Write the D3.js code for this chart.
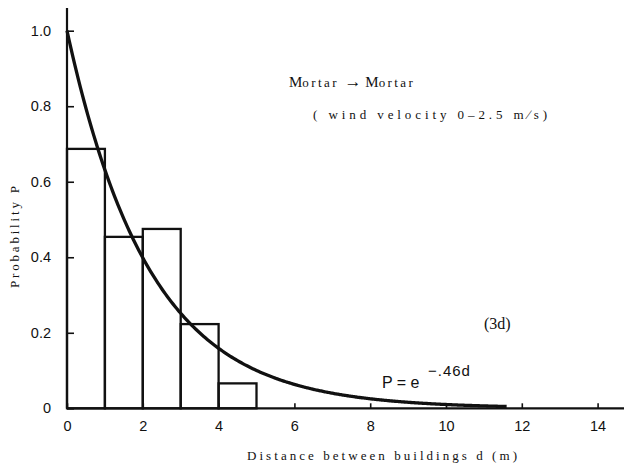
<!DOCTYPE html>
<html>
<head>
<meta charset="utf-8">
<script src="https://cdn.jsdelivr.net/npm/d3@7"></script>
<style>
  html, body { margin: 0; padding: 0; background: #fff; }
  svg { display: block; }
  .tick text { font-family: "Liberation Sans", Arial, sans-serif; font-size: 14.5px; fill: #111; }
  .serif { font-family: "Liberation Serif", "DejaVu Serif", serif; fill: #111; }
</style>
</head>
<body>
<svg id="chart" width="624" height="468"></svg>
<script>
// Histogram of separation distances (1 m bins) and fitted exponential
const binStarts = [0, 1, 2, 3, 4];
const binProbs = [0.687, 0.454, 0.475, 0.223, 0.066];
const xTicks = [0, 2, 4, 6, 8, 10, 12, 14];
const yTicks = [0, 0.2, 0.4, 0.6, 0.8, 1.0];
const yTickLabels = ["0", "0.2", "0.4", "0.6", "0.8", "1.0"];
const fitRate = 0.46;
const fitEnd = 11.6;

const W = 624, H = 468;
const svg = d3.select("#chart");

const x = d3.scaleLinear().domain([0, 14]).range([67, 597.6]);
const y = d3.scaleLinear().domain([0, 1]).range([408.3, 30.7]);

// axis lines extend past the tick range
svg.append("line")
  .attr("x1", x(0)).attr("x2", W)
  .attr("y1", y(0)).attr("y2", y(0))
  .attr("stroke", "#111").attr("stroke-width", 2.2);
svg.append("line")
  .attr("x1", x(0)).attr("x2", x(0))
  .attr("y1", y(0)).attr("y2", y(1.06))
  .attr("stroke", "#111").attr("stroke-width", 2.2);

// bottom axis: ticks point up into the plot
const xAxis = svg.append("g")
  .attr("transform", `translate(0,${y(0)})`)
  .call(d3.axisBottom(x).tickValues(xTicks).tickSize(-5).tickPadding(12).tickFormat(d3.format("d")));
xAxis.select(".domain").remove();
xAxis.selectAll(".tick line").attr("stroke", "#111").attr("stroke-width", 1.6);

// left axis: ticks point right into the plot
const yAxis = svg.append("g")
  .attr("transform", `translate(${x(0)},0)`)
  .call(d3.axisLeft(y).tickValues(yTicks).tickSize(-7).tickPadding(16)
    .tickFormat((d, i) => yTickLabels[i]));
yAxis.select(".domain").remove();
yAxis.selectAll(".tick line").attr("stroke", "#111").attr("stroke-width", 1.6);

// histogram bars
svg.append("g").selectAll("rect")
  .data(binStarts)
  .join("rect")
  .attr("x", d => x(d))
  .attr("width", d => x(d + 1) - x(d))
  .attr("y", (d, i) => y(binProbs[i]))
  .attr("height", (d, i) => y(0) - y(binProbs[i]))
  .attr("fill", "none")
  .attr("stroke", "#111")
  .attr("stroke-width", 2.3);

// fitted curve P = e^(-0.46 d)
const ds = d3.range(0, fitEnd + 0.001, 0.05);
const line = d3.line().x(d => x(d)).y(d => y(Math.exp(-fitRate * d))).curve(d3.curveBasis);
svg.append("path")
  .attr("d", line(ds))
  .attr("fill", "none")
  .attr("stroke", "#111")
  .attr("stroke-width", 3.3);

// axis titles
svg.append("text")
  .attr("class", "serif")
  .attr("transform", `translate(19,237) rotate(-90)`)
  .attr("text-anchor", "middle")
  .attr("font-size", 13)
  .attr("textLength", 102)
  .attr("lengthAdjust", "spacing")
  .text("Probability P");

svg.append("text")
  .attr("class", "serif")
  .attr("x", 247).attr("y", 460)
  .attr("font-size", 13)
  .attr("textLength", 270)
  .attr("lengthAdjust", "spacing")
  .text("Distance between buildings d  (m)");

// annotations
const ann = svg.append("text")
  .attr("class", "serif")
  .attr("x", 289).attr("y", 87)
  .attr("font-size", 13)
  .attr("letter-spacing", 2.4);
ann.append("tspan").attr("font-size", 15).attr("letter-spacing", 0).text("M");
ann.append("tspan").text("ortar ");
ann.append("tspan").attr("font-size", 17).attr("font-weight", "bold").attr("letter-spacing", 0).text("\u2192");
ann.append("tspan").attr("font-size", 15).attr("letter-spacing", 0).text(" M");
ann.append("tspan").text("ortar");

svg.append("text")
  .attr("class", "serif")
  .attr("x", 313).attr("y", 119)
  .attr("font-size", 13)
  .attr("textLength", 234)
  .attr("lengthAdjust", "spacing")
  .text("( wind velocity 0\u20132.5 m\u2215s)");

svg.append("text")
  .attr("class", "serif")
  .attr("x", 484).attr("y", 329)
  .attr("font-size", 16)
  .text("(3d)");

const eq = svg.append("text")
  .attr("x", 382).attr("y", 388)
  .attr("font-family", "Liberation Sans, Arial, sans-serif")
  .attr("font-size", 16)
  .attr("fill", "#111");
eq.append("tspan").text("P = e ");
eq.append("tspan").attr("dx", 4).attr("dy", -12).attr("font-size", 15).attr("letter-spacing", 1).text("\u2212.46d");
</script>
</body>
</html>
